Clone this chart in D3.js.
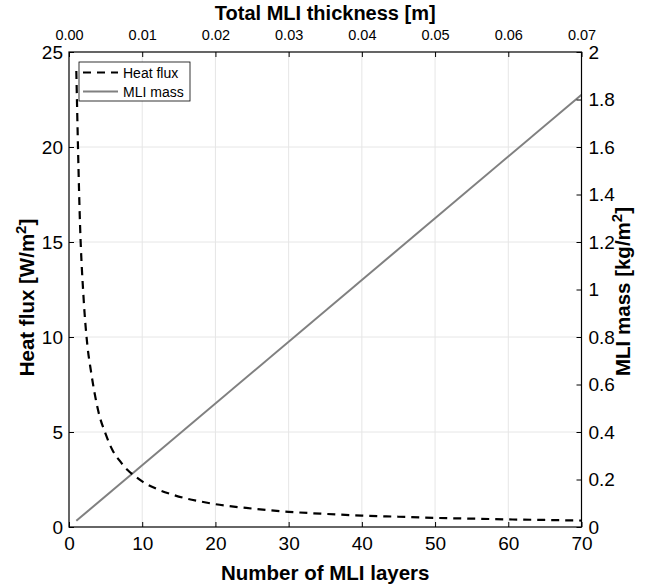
<!DOCTYPE html>
<html><head><meta charset="utf-8">
<script src="https://cdn.jsdelivr.net/npm/d3@7"></script>
<style>body{margin:0;background:#fff;} svg{display:block;font-family:"Liberation Sans",Arial,sans-serif;}</style>
</head><body>
<svg id="c" width="649" height="587"></svg>
<script>
const layers = [1,1.5,2,2.5,3,4,5,6,7,8,9,10,12,14,16,18,20,25,30,35,40,45,50,55,60,65,70];
const heatFlux = [24,16,12,9.6,8.2,6.1,4.9,4.0,3.45,3.0,2.68,2.4,2.0,1.72,1.5,1.34,1.2,0.97,0.8,0.69,0.6,0.54,0.48,0.44,0.4,0.37,0.34];
const massLayers = [1,70];
const mliMass = [0.026,1.82];
const bottomTicks = [0,10,20,30,40,50,60,70];
const topTicks = [0,0.01,0.02,0.03,0.04,0.05,0.06,0.07];
const leftTicks = [0,5,10,15,20,25];
const rightTicks = [0,0.2,0.4,0.6,0.8,1,1.2,1.4,1.6,1.8,2];
const seriesNames = ["Heat flux","MLI mass"];

const svg = d3.select("#c");
const L=69, R=581.5, T=52, B=527;
const x = d3.scaleLinear().domain([0,70]).range([L,R]);
const xt = d3.scaleLinear().domain([0,0.07]).range([L,R]);
const yl = d3.scaleLinear().domain([0,25]).range([B,T]);
const yr = d3.scaleLinear().domain([0,2]).range([B,T]);

// grid
const g = svg.append("g");
g.selectAll(".gx").data(bottomTicks.slice(1,-1)).enter().append("line")
 .attr("x1",d=>x(d)).attr("x2",d=>x(d)).attr("y1",T).attr("y2",B)
 .attr("stroke","#e6e6e6").attr("stroke-width",1);
g.selectAll(".gy").data(leftTicks.slice(1,-1)).enter().append("line")
 .attr("y1",d=>yl(d)).attr("y2",d=>yl(d)).attr("x1",L).attr("x2",R)
 .attr("stroke","#e6e6e6").attr("stroke-width",1);

// data
svg.append("path").datum(massLayers.map((d,i)=>[d,mliMass[i]]))
 .attr("d",d3.line().x(d=>x(d[0])).y(d=>yr(d[1])))
 .attr("fill","none").attr("stroke","#808080").attr("stroke-width",2);
svg.append("path").datum(layers.map((d,i)=>[d,heatFlux[i]]))
 .attr("d",d3.line().x(d=>x(d[0])).y(d=>yl(d[1])).curve(d3.curveMonotoneX))
 .attr("fill","none").attr("stroke","#000").attr("stroke-width",2.2).attr("stroke-dasharray","8,6");

// axes
function styleAxis(sel,size){
  sel.select(".domain").remove();
  sel.selectAll(".tick line").attr("stroke","#000").attr("stroke-width",1);
  sel.selectAll(".tick text").attr("fill","#000").style("font-size",size+"px").style("font-family","Liberation Sans, Arial, sans-serif");
}
const ax1 = svg.append("g").attr("transform",`translate(0,${B})`)
 .call(d3.axisBottom(x).tickValues(bottomTicks).tickSizeInner(-5).tickSizeOuter(0).tickPadding(10).tickFormat(d3.format("d")));
styleAxis(ax1,19);
const ax2 = svg.append("g").attr("transform",`translate(0,${T})`)
 .call(d3.axisTop(xt).tickValues(topTicks).tickSizeInner(-5).tickSizeOuter(0).tickPadding(12).tickFormat(d3.format(".2f")));
styleAxis(ax2,14.5);
const ax3 = svg.append("g").attr("transform",`translate(${L},0)`)
 .call(d3.axisLeft(yl).tickValues(leftTicks).tickSizeInner(-5).tickSizeOuter(0).tickPadding(6).tickFormat(d3.format("d")));
styleAxis(ax3,19);
const ax4 = svg.append("g").attr("transform",`translate(${R},0)`)
 .call(d3.axisRight(yr).tickValues(rightTicks).tickSizeInner(-5).tickSizeOuter(0).tickPadding(7).tickFormat(d=>d3.format("~g")(d)));
styleAxis(ax4,19);

// box
svg.append("rect").attr("x",L).attr("y",T).attr("width",R-L).attr("height",B-T)
 .attr("fill","none").attr("stroke","#000").attr("stroke-width",1.2);

// titles
svg.append("text").attr("x",(L+R)/2).attr("y",580).attr("text-anchor","middle")
 .style("font-size","20.5px").style("font-weight","bold").text("Number of MLI layers");
svg.append("text").attr("x",(L+R)/2).attr("y",20).attr("text-anchor","middle")
 .style("font-size","20px").style("font-weight","bold").text("Total MLI thickness [m]");
const lt = svg.append("text").attr("transform",`translate(34,${(T+B)/2+8}) rotate(-90)`).attr("text-anchor","middle")
 .style("font-size","20.5px").style("font-weight","bold");
lt.append("tspan").text("Heat flux [W/m");
lt.append("tspan").attr("dy",-8).style("font-size","15px").text("2");
lt.append("tspan").attr("dy",8).text("]");
const rt = svg.append("text").attr("transform",`translate(630,${(T+B)/2+2}) rotate(-90)`).attr("text-anchor","middle")
 .style("font-size","20.5px").style("font-weight","bold");
rt.append("tspan").text("MLI mass [kg/m");
rt.append("tspan").attr("dy",-8).style("font-size","15px").text("2");
rt.append("tspan").attr("dy",8).text("]");

// legend
const lg = svg.append("g");
lg.append("rect").attr("x",79).attr("y",62).attr("width",111).attr("height",39)
 .attr("fill","#fff").attr("stroke","#000").attr("stroke-width",0.8);
const legStyles=[{c:"#000",w:2.2,da:"8,6"},{c:"#808080",w:2,da:null}];
seriesNames.forEach((n,i)=>{
  const yy = 72.5+i*19;
  lg.append("line").attr("x1",83).attr("x2",118).attr("y1",yy).attr("y2",yy)
    .attr("stroke",legStyles[i].c).attr("stroke-width",legStyles[i].w).attr("stroke-dasharray",legStyles[i].da);
  lg.append("text").attr("x",123).attr("y",yy+5).style("font-size","14px").text(n);
});
</script>
</body></html>
